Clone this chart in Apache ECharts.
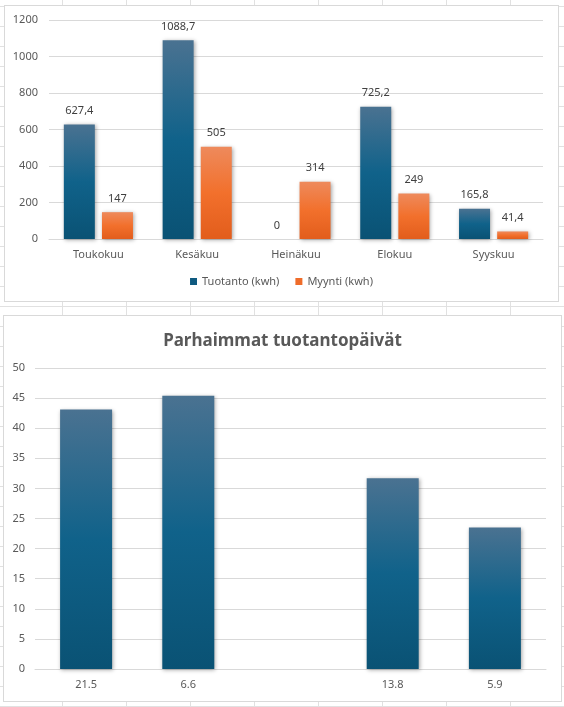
<!DOCTYPE html>
<html>
<head>
<meta charset="utf-8">
<script src="https://cdn.jsdelivr.net/npm/echarts@6/dist/echarts.min.js"></script>
<style>
    html, body {
        margin: 0;
        padding: 0;
        width: 564px;
        height: 707px;
        overflow: hidden;
        background-color: #fff;
        /* spreadsheet cells behind the charts */
        background-image:
            repeating-linear-gradient(to right, transparent 0, transparent 62px, #e1e1e1 62px, #e1e1e1 63px, transparent 63px, transparent 64px),
            repeating-linear-gradient(to bottom, transparent 0, transparent 6px, #e1e1e1 6px, #e1e1e1 7px, transparent 7px, transparent 20px);
        background-size: 64px 100%, 100% 20px;
    }
    .box {
        position: absolute;
        box-sizing: border-box;
        background: #fff;
        border: 1px solid #d9d9d9;
    }
    #top { left: 4px; top: 5px; width: 555px; height: 297px; }
    #bottom { left: 3px; top: 315px; width: 559px; height: 387px; }
</style>
</head>
<body>
<div id="top" class="box"></div>
<div id="bottom" class="box"></div>
<script>
// kuukausittainen tuotanto / myynti
const months = ["Toukokuu", "Kesäkuu", "Heinäkuu", "Elokuu", "Syyskuu"];
const tuotanto = [627.4, 1088.7, 0, 725.2, 165.8];
const myynti = [147, 505, 314, 249, 41.4];
const seriesNames = ["Tuotanto (kwh)", "Myynti (kwh)"];

// parhaimmat päivät
const dayLabels = ["21.5", "6.6", "", "13.8", "5.9"];
const dayValues = [43.1, 45.4, null, 31.7, 23.5];

const fontFamily = "Noto Sans";
const gridColor = "#d9d9d9";
const textColor = "#595959";

function gradient(top, mid, bottom) {
    return new echarts.graphic.LinearGradient(0, 0, 0, 1, [
        { offset: 0, color: top },
        { offset: 0.5, color: mid },
        { offset: 1, color: bottom }
    ]);
}
const blue = () => gradient("#4a7291", "#10628a", "#0a5274");
const orange = () => gradient("#ee8a5c", "#f2702c", "#e25d1c");

const shadow = {
    shadowBlur: 4,
    shadowColor: "rgba(0,0,0,0.35)",
    shadowOffsetX: 1,
    shadowOffsetY: 1
};

const valueLabel = {
    show: true,
    position: "top",
    distance: 8,
    color: "#404040",
    fontSize: 11,
    formatter: (p) => String(p.value).replace(".", ",")
};

const topChart = echarts.init(document.getElementById("top"));
topChart.setOption({
    animation: false,
    textStyle: { fontFamily },
    legend: {
        data: [
            { name: seriesNames[0], itemStyle: { color: "#0f5a80", shadowBlur: 0 } },
            { name: seriesNames[1], itemStyle: { color: "#ef6c2a", shadowBlur: 0 } }
        ],
        bottom: 9,
        left: "center",
        itemWidth: 7,
        itemHeight: 7,
        itemGap: 16,
        icon: "rect",
        textStyle: { color: textColor, fontSize: 11, fontFamily }
    },
    grid: { left: 44, right: 15, top: 14, bottom: 62 },
    xAxis: {
        type: "category",
        data: months,
        axisTick: { show: false },
        axisLine: { lineStyle: { color: gridColor } },
        axisLabel: { color: textColor, fontSize: 11, margin: 10 }
    },
    yAxis: {
        type: "value",
        min: 0,
        max: 1200,
        interval: 200,
        axisLabel: { color: textColor, fontSize: 11, margin: 11, formatter: (v) => String(v) },
        splitLine: { lineStyle: { color: gridColor } }
    },
    series: [
        {
            name: seriesNames[0],
            type: "bar",
            data: tuotanto,
            barWidth: 31,
            barGap: "23%",
            itemStyle: Object.assign({ color: blue() }, shadow),
            label: valueLabel
        },
        {
            name: seriesNames[1],
            type: "bar",
            data: myynti,
            barWidth: 31,
            itemStyle: Object.assign({ color: orange() }, shadow),
            label: valueLabel
        }
    ]
});

const bottomChart = echarts.init(document.getElementById("bottom"));
bottomChart.setOption({
    animation: false,
    textStyle: { fontFamily },
    title: {
        text: "Parhaimmat tuotantopäivät",
        left: "center",
        top: 12,
        textStyle: { color: textColor, fontSize: 17, fontWeight: "bold", fontFamily }
    },
    grid: { left: 31, right: 15, top: 52, bottom: 32 },
    xAxis: {
        type: "category",
        data: dayLabels,
        axisTick: { show: false },
        axisLine: { lineStyle: { color: gridColor } },
        axisLabel: { color: textColor, fontSize: 11, margin: 10 }
    },
    yAxis: {
        type: "value",
        min: 0,
        max: 50,
        interval: 5,
        axisLabel: { color: textColor, fontSize: 11, margin: 10 },
        splitLine: { lineStyle: { color: gridColor } }
    },
    series: [
        {
            type: "bar",
            data: dayValues,
            barWidth: 52,
            itemStyle: Object.assign({ color: blue() }, shadow)
        }
    ]
});
</script>
</body>
</html>
